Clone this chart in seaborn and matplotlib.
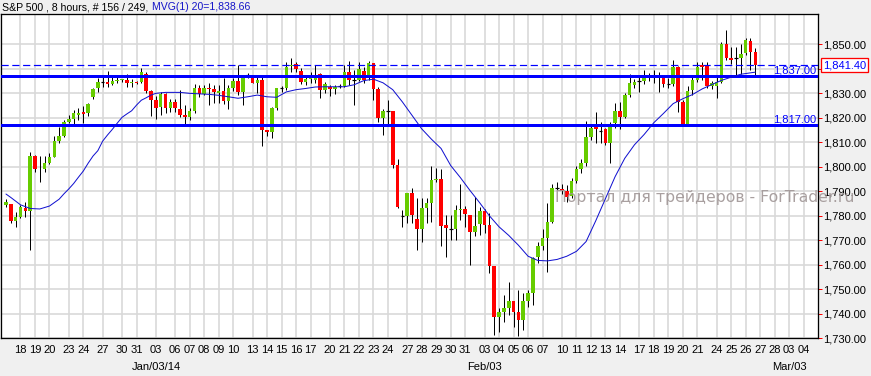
import numpy as np
import pandas as pd
import matplotlib
matplotlib.use("Agg")
import matplotlib.pyplot as plt
import matplotlib.transforms as mtransforms
from matplotlib.ticker import FuncFormatter
import seaborn as sns

# ---------------- data ----------------
opens = [
    1784.4, 1784.8, 1778.0, 1779.7, 1783.1, 1782.1, 1804.4, 1799.0, 1799.0, 1801.5,
    1804.2, 1810.7, 1812.7, 1818.4, 1819.5, 1821.2, 1822.5, 1821.8, 1828.6, 1832.0,
    1834.6, 1834.8, 1834.0, 1835.2, 1835.5, 1835.6, 1834.4, 1834.6, 1834.8, 1837.9,
    1831.1, 1827.3, 1824.3, 1829.6, 1824.2, 1826.6, 1823.5, 1821.3, 1820.2, 1822.8,
    1832.3, 1829.7, 1832.0, 1831.6, 1830.0, 1830.9, 1827.0, 1832.0, 1835.0, 1830.7,
    1837.3, 1836.8, 1834.3, 1835.4, 1815.0, 1814.3, 1823.9, 1832.0, 1832.0, 1841.0,
    1842.0, 1839.1, 1834.5, 1835.7, 1835.4, 1837.9, 1831.3, 1832.7, 1831.6, 1833.0,
    1833.0, 1838.8, 1835.4, 1835.4, 1839.1, 1836.4, 1842.2, 1831.8, 1820.1, 1822.8,
    1822.8, 1800.7, 1780.0, 1780.1, 1789.2, 1778.6, 1774.6, 1783.0, 1785.1, 1794.8,
    1795.0, 1776.2, 1774.6, 1774.7, 1782.4, 1782.7, 1780.3, 1773.5, 1776.6, 1781.9,
    1776.2, 1759.5, 1738.8, 1740.6, 1742.5, 1745.2, 1740.6, 1737.5, 1745.2, 1748.4,
    1763.3, 1767.7, 1771.1, 1777.3, 1791.3, 1791.0, 1790.1, 1788.1, 1794.2, 1799.0,
    1801.4, 1812.0, 1816.4, 1814.7, 1815.3, 1809.6, 1817.7, 1822.8, 1820.3, 1829.3,
    1833.5, 1835.1, 1835.1, 1836.6, 1836.4, 1837.7, 1836.4, 1833.8, 1833.7, 1840.9,
    1826.3, 1817.3, 1831.4, 1835.4, 1841.6, 1841.6, 1833.0, 1833.0, 1834.8, 1850.0,
    1844.5, 1844.4, 1844.3, 1846.3, 1851.4, 1847.0]
highs = [
    1786.7, 1785.0, 1781.7, 1784.4, 1785.5, 1805.9, 1804.8, 1804.4, 1804.4, 1805.5,
    1812.7, 1816.4, 1819.1, 1821.2, 1823.2, 1823.9, 1824.8, 1825.9, 1832.0, 1836.1,
    1836.8, 1839.3, 1836.5, 1836.8, 1836.0, 1837.9, 1835.8, 1835.2, 1840.2, 1838.8,
    1831.4, 1828.9, 1830.7, 1830.0, 1827.5, 1827.5, 1831.4, 1825.2, 1823.9, 1833.7,
    1833.4, 1833.4, 1834.3, 1833.4, 1833.4, 1836.1, 1833.4, 1836.4, 1841.6, 1836.8,
    1838.4, 1837.5, 1837.5, 1837.2, 1815.0, 1824.5, 1832.3, 1833.0, 1842.6, 1844.3,
    1842.9, 1840.2, 1837.5, 1838.8, 1841.6, 1838.4, 1834.8, 1833.4, 1833.4, 1833.7,
    1841.6, 1843.2, 1839.5, 1842.6, 1840.9, 1843.2, 1842.4, 1832.4, 1823.5, 1827.2,
    1822.8, 1803.2, 1782.5, 1789.2, 1791.2, 1787.1, 1787.1, 1787.4, 1800.3, 1799.4,
    1799.1, 1780.3, 1780.3, 1784.4, 1793.0, 1784.0, 1780.3, 1787.5, 1783.7, 1782.6,
    1781.3, 1759.5, 1742.2, 1747.7, 1753.1, 1745.2, 1749.7, 1748.4, 1749.7, 1763.3,
    1769.4, 1774.5, 1785.4, 1793.0, 1793.7, 1793.0, 1792.6, 1795.3, 1800.3, 1803.1,
    1818.7, 1817.1, 1822.5, 1818.2, 1815.7, 1818.4, 1826.0, 1826.6, 1830.0, 1837.8,
    1835.8, 1837.0, 1839.5, 1838.2, 1839.5, 1838.6, 1837.7, 1836.1, 1843.6, 1841.3,
    1827.3, 1833.0, 1837.5, 1842.6, 1842.6, 1842.6, 1835.0, 1836.8, 1851.1, 1855.8,
    1848.8, 1848.8, 1850.1, 1852.4, 1852.7, 1848.4]
lows = [
    1783.5, 1777.0, 1775.6, 1779.0, 1779.7, 1766.0, 1798.0, 1794.0, 1798.0, 1801.2,
    1804.0, 1809.6, 1812.3, 1818.0, 1817.1, 1819.1, 1817.8, 1820.7, 1827.8, 1830.7,
    1832.5, 1832.7, 1833.4, 1834.1, 1834.5, 1832.7, 1832.7, 1833.7, 1834.4, 1830.0,
    1820.8, 1819.4, 1821.2, 1822.1, 1822.5, 1822.5, 1820.5, 1816.7, 1819.1, 1821.8,
    1828.6, 1829.3, 1825.2, 1825.9, 1825.9, 1825.6, 1823.6, 1830.9, 1829.3, 1825.2,
    1836.1, 1834.1, 1830.0, 1808.6, 1812.6, 1811.6, 1823.2, 1830.7, 1831.3, 1838.8,
    1838.8, 1833.7, 1833.4, 1834.1, 1834.1, 1828.2, 1830.0, 1829.0, 1829.7, 1832.0,
    1832.4, 1833.4, 1825.2, 1835.0, 1834.3, 1835.4, 1827.3, 1818.4, 1812.8, 1817.2,
    1799.4, 1783.0, 1775.6, 1777.0, 1776.9, 1766.0, 1769.4, 1776.9, 1777.6, 1793.9,
    1767.8, 1763.3, 1770.1, 1770.1, 1778.3, 1775.6, 1759.9, 1771.9, 1772.2, 1772.8,
    1756.5, 1731.3, 1732.7, 1736.8, 1739.5, 1734.7, 1730.9, 1733.4, 1742.9, 1743.6,
    1760.6, 1766.0, 1757.2, 1776.9, 1790.5, 1789.0, 1785.8, 1787.1, 1793.5, 1797.3,
    1800.3, 1811.0, 1809.6, 1809.6, 1808.9, 1801.4, 1815.7, 1815.5, 1819.8, 1828.6,
    1832.0, 1830.7, 1833.8, 1835.0, 1834.1, 1830.4, 1832.7, 1832.3, 1833.1, 1822.5,
    1816.8, 1816.8, 1829.3, 1834.8, 1835.4, 1832.0, 1831.8, 1828.2, 1834.1, 1843.6,
    1841.8, 1837.5, 1838.1, 1845.6, 1839.5, 1837.5]
closes = [
    1785.8, 1778.0, 1779.7, 1783.5, 1782.0, 1804.4, 1799.0, 1799.3, 1801.7, 1804.2,
    1810.7, 1812.7, 1818.4, 1819.5, 1821.8, 1822.1, 1821.6, 1825.5, 1831.6, 1834.7,
    1834.6, 1834.0, 1835.2, 1835.6, 1835.8, 1834.4, 1834.7, 1834.2, 1838.8, 1831.1,
    1827.3, 1823.9, 1829.6, 1824.2, 1826.6, 1823.9, 1821.2, 1820.2, 1822.8, 1832.3,
    1829.7, 1832.3, 1831.6, 1830.5, 1830.9, 1827.0, 1832.0, 1835.0, 1830.7, 1836.4,
    1837.3, 1834.3, 1835.4, 1815.0, 1814.3, 1823.9, 1832.0, 1832.0, 1840.9, 1841.6,
    1839.8, 1834.8, 1835.7, 1837.2, 1837.5, 1831.3, 1833.8, 1831.6, 1832.4, 1833.0,
    1838.8, 1835.4, 1835.4, 1839.8, 1835.4, 1842.2, 1831.8, 1820.1, 1822.8, 1822.8,
    1800.7, 1783.7, 1780.0, 1789.2, 1780.3, 1774.6, 1783.0, 1785.1, 1794.6, 1795.2,
    1776.0, 1774.9, 1774.6, 1782.4, 1782.8, 1780.6, 1773.5, 1776.0, 1781.9, 1776.2,
    1759.5, 1738.8, 1740.6, 1742.5, 1745.2, 1740.9, 1737.5, 1745.2, 1748.4, 1762.6,
    1767.7, 1771.1, 1777.3, 1791.5, 1791.3, 1790.1, 1787.8, 1794.2, 1799.0, 1801.4,
    1812.0, 1815.7, 1815.3, 1814.7, 1809.6, 1817.5, 1822.6, 1820.5, 1829.4, 1834.3,
    1834.8, 1835.1, 1836.5, 1836.2, 1837.7, 1836.8, 1833.7, 1833.8, 1840.9, 1826.3,
    1817.3, 1830.9, 1835.4, 1840.9, 1840.9, 1833.0, 1834.1, 1834.8, 1850.0, 1844.3,
    1843.6, 1844.4, 1846.0, 1851.8, 1847.0, 1841.4]

# 20-period moving average at these bar numbers
ma_bar = [0, 1, 3, 5, 7, 9, 10, 11, 12, 13, 14, 15, 16, 17, 18, 19, 20, 21, 22, 23,
          24, 25, 26, 27, 28, 29, 30, 31, 33, 36, 38, 40, 42, 44, 46, 48, 50, 52, 54, 56,
          58, 60, 62, 64, 66, 70, 72, 74, 76, 78, 80, 82, 84, 86, 88, 90, 92, 94, 96, 98,
          100, 102, 104, 106, 108, 110, 112, 114, 116, 118, 120, 122, 124, 126, 128, 130,
          132, 134, 136, 138, 140, 142, 144, 146, 148, 150, 152, 155]
ma_val = [1788.9, 1787.5, 1784.5, 1783.0, 1782.8, 1784.0, 1785.4, 1786.8, 1789.0, 1791.0,
          1793.2, 1795.8, 1798.3, 1801.5, 1804.4, 1806.6, 1810.5, 1813.0, 1815.3, 1817.8,
          1820.2, 1821.6, 1822.9, 1825.2, 1827.2, 1828.2, 1829.3, 1830.0, 1830.4, 1830.4,
          1830.0, 1829.8, 1829.6, 1829.2, 1828.6, 1828.0, 1828.6, 1829.3, 1828.6, 1828.4,
          1830.6, 1831.5, 1832.0, 1832.6, 1832.7, 1832.7, 1833.5, 1835.2, 1835.8, 1834.3,
          1831.5, 1826.5, 1821.0, 1815.5, 1811.3, 1807.5, 1800.5, 1795.6, 1790.3, 1785.3,
          1780.0, 1775.5, 1772.0, 1768.0, 1763.5, 1761.8, 1761.6, 1762.2, 1763.5, 1765.5,
          1769.5, 1778.0, 1787.0, 1796.0, 1803.5, 1809.0, 1813.2, 1818.0, 1821.8, 1825.8,
          1827.8, 1829.5, 1831.8, 1833.6, 1835.3, 1836.6, 1837.8, 1838.66]

# bar number where each labelled day starts, and its label
tick_bars = [3, 6, 9, 13, 16, 20, 24, 27, 31, 35, 38, 41, 44, 47, 51, 54, 57, 60, 63, 67,
             70, 73, 76, 79, 83, 86, 89, 92, 95, 99, 102, 105, 108, 111, 115, 118, 121,
             124, 127, 131, 134, 137, 140, 143, 147, 150, 153, 156, 159, 162, 165]
tick_labels = ["18", "19", "20", "23", "24", "27", "30", "31", "03", "06", "07", "08",
               "09", "10", "13", "14", "15", "16", "17", "20", "21", "22", "23", "24",
               "27", "28", "29", "30", "31", "03", "04", "05", "06", "07", "10", "11",
               "12", "13", "14", "17", "18", "19", "20", "21", "24", "25", "26", "27",
               "28", "03", "04"]
month_bars = [31, 99, 162]
month_labels = ["Jan/03/14", "Feb/03", "Mar/03"]

price_ticks = [1730, 1740, 1750, 1760, 1770, 1780, 1790, 1800, 1810, 1820, 1830, 1840, 1850]
levels = [1837.0, 1817.0]
level_labels = ["1,837.00", "1,817.00"]
last_close = 1841.40
last_label = "1,841.40"
title_main = "S&P 500 , 8 hours, # 156 / 249,"
title_ma = "MVG(1) 20=1,838.66"
watermark = "Портал для трейдеров - ForTrader.ru"

# ---------------- styling ----------------
sns.set_style("white")
plt.rcParams["font.family"] = ["Liberation Sans", "DejaVu Sans"]

W, H = 871, 376
fig = plt.figure(figsize=(W / 100, H / 100), dpi=100, facecolor="#F0F0F0")
ax_l, ax_r, ax_t, ax_b = 1, 818.3, 14, 338.3
ax = fig.add_axes([ax_l / W, 1 - ax_b / H, (ax_r - ax_l) / W, (ax_b - ax_t) / H])
ax.set_facecolor("white")

GREEN = "#66CC00"
RED = "#FF0000"
BLUE = "#0000FF"
PX = 0.72  # one pixel in points

df = pd.DataFrame({"bar": np.arange(len(opens)), "open": opens, "high": highs,
                   "low": lows, "close": closes})

# wicks
ax.vlines(df["bar"], df["low"], df["high"], color="black", linewidth=1.0 * PX, zorder=3)
# bodies
body_w = 0.74
for b, o, c in zip(df["bar"], df["open"], df["close"]):
    if abs(c - o) < 0.05:
        ax.hlines(o, b - body_w / 2, b + body_w / 2, color="black", linewidth=1.2 * PX, zorder=4)
    else:
        col = GREEN if c > o else RED
        ax.bar(b, c - o, bottom=o, width=body_w, color=col, linewidth=0, zorder=4)

# moving average
ma_df = pd.DataFrame({"bar": ma_bar, "ma": ma_val})
sns.lineplot(data=ma_df, x="bar", y="ma", ax=ax, color="#1010D0", linewidth=1.0 * PX,
             zorder=6, legend=False)

# support / resistance lines
blend_xa = mtransforms.blended_transform_factory(ax.transAxes, ax.transData)
for lv, lab in zip(levels, level_labels):
    ax.axhline(lv, color=BLUE, linewidth=3 * PX, zorder=5)
    ax.text(0.997, lv + 0.3, lab, transform=blend_xa,
            ha="right", va="bottom", color=BLUE, fontsize=8, zorder=7)
# last price dashed line
ax.axhline(last_close, color=BLUE, linewidth=1.2 * PX, linestyle=(0, (6, 3)), zorder=5)

# axes
ax.set_xlim(-1.03, 168.03)
ax.set_ylim(1730, 1862.4)
ax.set_xticks(tick_bars)
ax.set_xticklabels(tick_labels)
ax.set_yticks(price_ticks)
# the 1,840.00 label sits under the last-price box in the reference
ax.yaxis.set_major_formatter(FuncFormatter(lambda v, p: "" if abs(v - 1840) < 0.1 else f"{v:,.2f}"))
ax.yaxis.tick_right()
ax.grid(True, color="#D8D8D8", linewidth=1.6 * PX, zorder=0)
ax.set_axisbelow(True)
ax.tick_params(axis="x", colors="red", labelcolor="black", direction="out",
               length=3 * PX, width=1 * PX, pad=3.5 * PX, labelsize=8)
ax.tick_params(axis="y", colors="red", labelcolor="black", direction="out",
               length=4 * PX, width=1 * PX, pad=1 * PX, labelsize=8)
for s in ax.spines.values():
    s.set_color("black")
    s.set_linewidth(1.3 * PX)
ax.set_xlabel("")
ax.set_ylabel("")

# month labels under the day labels
trans_m = mtransforms.blended_transform_factory(ax.transData, ax.transAxes)
for mb, ml in zip(month_bars, month_labels):
    ax.annotate(ml, xy=(mb, 0), xycoords=trans_m, xytext=(0, -28.5 * PX),
                textcoords="offset points", ha="center", va="center", fontsize=8,
                color="black", annotation_clip=False)

# last price box
ax.text(1.0055, last_close, last_label, transform=blend_xa,
        ha="left", va="center", color=BLUE, fontsize=8, zorder=10, clip_on=False,
        bbox=dict(boxstyle="square,pad=0.18", facecolor="white", edgecolor="red", linewidth=1.3 * PX))

# watermark
fig.text(555 / W, 1 - 198 / H, watermark, fontsize=11.3, color="#A09696",
         family=["DejaVu Sans"], ha="left", va="center", alpha=0.9, zorder=2)

# title
t1 = fig.text(2 / W, 1 - 7 / H, title_main, fontsize=7.6, color="black", ha="left", va="center")
fig.canvas.draw()
bb = t1.get_window_extent(renderer=fig.canvas.get_renderer())
fig.text((bb.x1 + 4) / W, 1 - 7 / H, title_ma, fontsize=7.6, color="#1414C8", ha="left", va="center")

fig.savefig("out.png", dpi=100, facecolor=fig.get_facecolor())
